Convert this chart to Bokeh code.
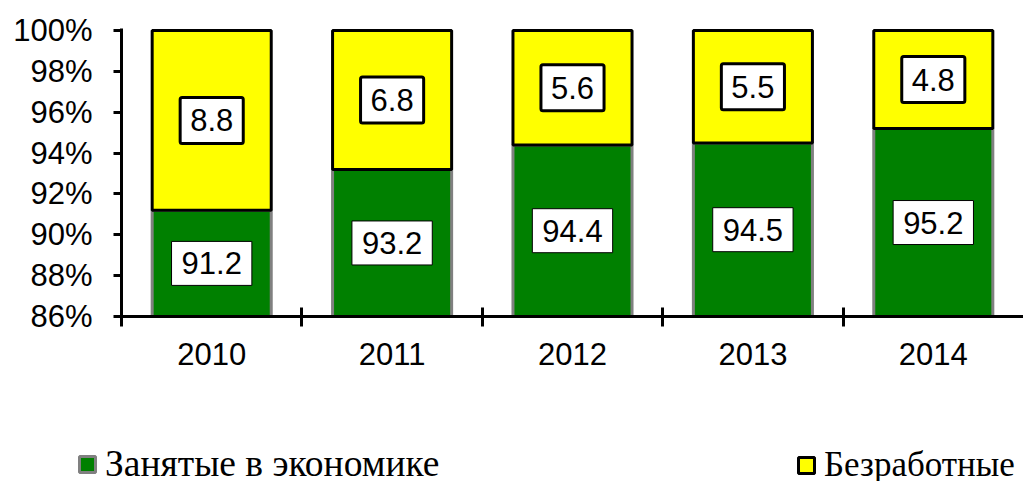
from bokeh.plotting import figure
from bokeh.layouts import column
from bokeh.models import (ColumnDataSource, Range1d, FixedTicker, PrintfTickFormatter,
                          Legend, LegendItem)
from bokeh.core.properties import value
from bokeh.embed import file_html
from bokeh.resources import INLINE

# ---- data ----
years = ["2010", "2011", "2012", "2013", "2014"]
employed = [91.2, 93.2, 94.4, 94.5, 95.2]
unemployed = [8.8, 6.8, 5.6, 5.5, 4.8]
y_ticks = [86, 88, 90, 92, 94, 96, 98, 100]
series_names = ["Занятые в экономике", "Безработные"]

y_min = y_ticks[0]
y_max = y_ticks[-1]

GREEN, GREEN_LINE = "#008000", "#808080"
YELLOW, YELLOW_LINE = "#FFFF00", "black"

x = [i + 0.5 for i in range(len(years))]
total = [e + u for e, u in zip(employed, unemployed)]
src = ColumnDataSource(dict(
    x=x,
    emp=employed,
    tot=total,
    emp_mid=[(y_min + e) / 2 for e in employed],
    un_mid=[(e + t) / 2 for e, t in zip(employed, total)],
    emp_lbl=[f"{v:.1f}" for v in employed],
    un_lbl=[f"{v:.1f}" for v in unemployed],
))

p = figure(width=1023, height=420, output_backend="svg", toolbar_location=None,
           x_range=Range1d(0, len(years)), y_range=Range1d(y_min, y_max + 0.1),
           min_border_left=121, min_border_top=28, min_border_bottom=104,
           min_border_right=0)
p.frame_align = False
p.outline_line_color = None
p.xgrid.visible = False
p.ygrid.visible = False
p.background_fill_color = "white"

p.vbar(x="x", width=0.66, bottom=y_min, top="emp", source=src,
       fill_color=GREEN, line_color=GREEN_LINE, line_width=3)
p.vbar(x="x", width=0.66, bottom="emp", top="tot", source=src,
       fill_color=YELLOW, line_color=YELLOW_LINE, line_width=3)

font = value("Liberation Sans")
p.text(x="x", y="emp_mid", text="emp_lbl", source=src, text_align="center",
       text_baseline="middle", text_font=font, text_font_size="31px",
       text_color="black", background_fill_color="white",
       border_line_color="black", border_line_width=1,
       padding=dict(left=10, right=10, top=11, bottom=11))
p.text(x="x", y="un_mid", text="un_lbl", source=src, text_align="center",
       text_baseline="middle", text_font=font, text_font_size="31px",
       text_color="black", background_fill_color="white",
       border_line_color="black", border_line_width=3, border_radius=2,
       padding=dict(left=10, right=10, top=12, bottom=12))

# x axis
xa = p.xaxis[0]
xa.ticker = FixedTicker(ticks=x, minor_ticks=list(range(len(years))))
xa.major_label_overrides = {xi: yr for xi, yr in zip(x, years)}
xa.axis_line_width = 3
xa.axis_line_color = "black"
xa.major_tick_out = 0
xa.major_tick_in = 0
xa.minor_tick_in = 9
xa.minor_tick_out = 10
xa.minor_tick_line_width = 3
xa.minor_tick_line_color = "black"
xa.major_label_standoff = 16
xa.major_label_text_font = "Liberation Sans"
xa.major_label_text_font_size = "31px"
xa.major_label_text_color = "black"

# y axis
ya = p.yaxis[0]
ya.ticker = FixedTicker(ticks=y_ticks)
ya.formatter = PrintfTickFormatter(format="%d%%")
ya.axis_line_width = 3
ya.axis_line_color = "black"
ya.major_tick_out = 8
ya.major_tick_in = 0
ya.major_tick_line_width = 3
ya.major_tick_line_color = "black"
ya.minor_tick_out = 0
ya.minor_tick_in = 0
ya.major_label_standoff = 21
ya.major_label_text_font = "Liberation Sans"
ya.major_label_text_font_size = "31px"
ya.major_label_text_color = "black"

# ---- legend strip ----
p2 = figure(width=1023, height=61, output_backend="svg", toolbar_location=None,
            x_range=Range1d(0, 1), y_range=Range1d(0, 1),
            x_axis_location=None, y_axis_location=None,
            min_border=0, min_border_left=0, min_border_right=0,
            min_border_top=0, min_border_bottom=0)
p2.frame_align = False
p2.outline_line_color = None
p2.xgrid.visible = False
p2.ygrid.visible = False
# swatch renderers (a single undrawable point; used only for legend styling)
nan = float("nan")
l_emp = p2.vbar(x=[nan], top=[nan], bottom=[nan], width=0.5, fill_color=GREEN,
                line_color=GREEN_LINE, line_width=3)
l_un = p2.vbar(x=[nan], top=[nan], bottom=[nan], width=0.5, fill_color=YELLOW,
               line_color=YELLOW_LINE, line_width=3)


def make_legend(label, renderer, loc, size):
    return Legend(items=[LegendItem(label=label, renderers=[renderer])],
                  orientation="horizontal", location=loc,
                  glyph_width=20, glyph_height=20, label_standoff=8,
                  label_text_font="Liberation Serif", label_text_font_size=size,
                  label_text_color="black",
                  padding=0, margin=0, border_line_color=None,
                  background_fill_alpha=0)


p2.add_layout(make_legend(series_names[0], l_emp, (77, -4), "37.5px"))
p2.add_layout(make_legend(series_names[1], l_un, (796, -4), "35px"))

layout = column(p, p2, spacing=0)
open("out.html", "w").write(file_html(layout, INLINE))
